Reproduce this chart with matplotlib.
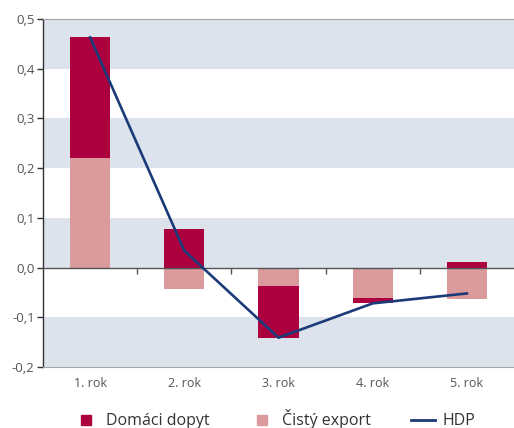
import numpy as np
import matplotlib
matplotlib.use("Agg")
import matplotlib.pyplot as plt
import matplotlib.lines as mlines

plt.rcParams['font.family'] = ['Open Sans', 'DejaVu Sans']

categories = ["1. rok", "2. rok", "3. rok", "4. rok", "5. rok"]
domaci_dopyt = [0.242, 0.077, -0.104, -0.010, 0.011]
cisty_export = [0.221, -0.043, -0.037, -0.061, -0.063]
hdp = [0.463, 0.034, -0.141, -0.072, -0.052]
yticks = [-0.2, -0.1, 0.0, 0.1, 0.2, 0.3, 0.4, 0.5]

c_dom = "#ad003f"
c_exp = "#db9a9c"
c_hdp = "#1b3a78"
band = "#dde3ed"

fig = plt.figure(figsize=(5.14, 4.28), dpi=100)
ax = fig.add_axes([0.0837, 0.1425, 0.9163, 0.8131])

x = np.arange(len(categories))
dom = np.array(domaci_dopyt)
exp_ = np.array(cisty_export)

# alternating horizontal bands
for lo, hi in zip(yticks[0::2], yticks[1::2]):
    ax.axhspan(lo, hi, color=band, lw=0, zorder=0)

# net export starts at zero, domestic demand stacks on it when signs agree
dom_bottom = np.where(np.sign(dom) == np.sign(exp_), exp_, 0.0)
ax.bar(x, exp_, width=0.425, color=c_exp, zorder=2, label="Čistý export")
ax.bar(x, dom, width=0.425, bottom=dom_bottom, color=c_dom, zorder=2, label="Domáci dopyt")
ax.plot(x, hdp, color=c_hdp, lw=1.9, zorder=4, label="HDP", solid_joinstyle='miter')

# zero line with category separators
ax.axhline(0, color="#555555", lw=1.0, zorder=3)
bounds = np.arange(len(categories) - 1) + 0.5
ax.plot(bounds, np.zeros_like(bounds), linestyle='none', marker=mlines.TICKDOWN,
        markersize=4, markeredgewidth=1.0, color="#555555", zorder=3)

ax.set_xlim(-0.5, len(categories) - 0.5)
ax.set_ylim(yticks[0], yticks[-1])
ax.set_yticks(yticks)
ax.set_yticklabels([f"{v:.1f}".replace(".", ",") for v in yticks])
ax.set_xticks(x)
ax.set_xticklabels(categories)

ax.spines["right"].set_visible(False)
ax.spines["top"].set_color("#a8a8a8")
ax.spines["bottom"].set_color("#a8a8a8")
ax.spines["left"].set_color("#333333")
ax.spines["left"].set_linewidth(1.0)

ax.tick_params(axis='y', length=4, width=1, color="#333333", labelsize=9.5,
               labelcolor="#555555", pad=2)
ax.tick_params(axis='x', length=0, labelsize=9, labelcolor="#555555", pad=7)

h_dom = mlines.Line2D([], [], color=c_dom, marker='s', linestyle='none', markersize=7)
h_exp = mlines.Line2D([], [], color=c_exp, marker='s', linestyle='none', markersize=7)
h_hdp = mlines.Line2D([], [], color=c_hdp, lw=2)
fig.legend([h_dom, h_exp, h_hdp], ["Domáci dopyt", "Čistý export", "HDP"],
           loc='center', bbox_to_anchor=(0.535, 0.02), ncol=3, frameon=False,
           fontsize=11.5, columnspacing=2.5, handlelength=1.5, handletextpad=0.5,
           labelcolor="#333333")

fig.savefig("out.png", dpi=100)
